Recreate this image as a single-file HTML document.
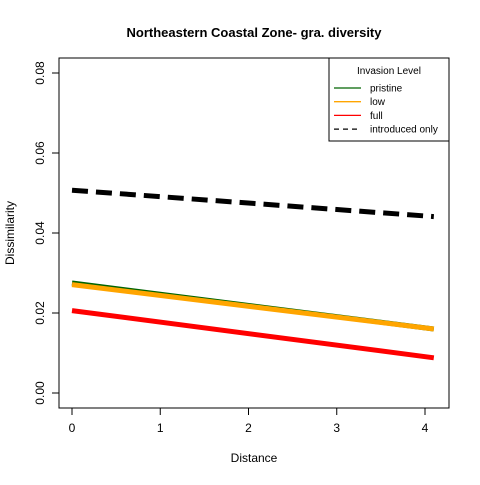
<!DOCTYPE html>
<html><head><style>body{margin:0;background:#fff}svg{font-family:"Liberation Sans",Arial,sans-serif}</style></head>
<body>
<svg id="c" width="480" height="480" xmlns="http://www.w3.org/2000/svg"></svg>
<script>
const seriesNames=["pristine","low","full","introduced only"];
const xStart=[0,0,0,0];
const xEnd=[4.1,4.1,4.1,4.1];
const yStart=[0.0275,0.0271,0.0206,0.0507];
const yEnd=[0.0160,0.0160,0.0088,0.0441];
const colors=["#006400","orange","red","black"];
const xTicks=[0,1,2,3,4];
const yTicks=[0,0.02,0.04,0.06,0.08];
const yTickLabels=["0.00","0.02","0.04","0.06","0.08"];
const X=v=>72+v*88.25, Y=v=>393-v*4000;
const svg=document.getElementById('c');
const NS="http://www.w3.org/2000/svg";
function mk(t,a,txt){const e=document.createElementNS(NS,t);for(const k in a)e.setAttribute(k,a[k]);if(txt!==undefined)e.textContent=txt;svg.appendChild(e);return e;}
let e;
e=mk('rect',{x:59,y:58,width:390,height:350,fill:'none',stroke:'#000'});


e=mk('text',{x:254,y:37,'text-anchor':'middle','font-size':13,'font-weight':'bold'},'Northeastern Coastal Zone- gra. diversity');


e=mk('text',{x:254,y:462,'text-anchor':'middle','font-size':12},'Distance');


e=mk('text',{x:14,y:233,'text-anchor':'middle','font-size':12,transform:'rotate(-90 14 233)'},'Dissimilarity');


mk('line',{x1:X(0),x2:X(4),y1:408,y2:408,stroke:'#000'});
xTicks.forEach(t=>{mk('line',{x1:X(t),x2:X(t),y1:408,y2:415,stroke:'#000'});
e=mk('text',{x:X(t),y:432,'text-anchor':'middle','font-size':12},String(t));

});
mk('line',{x1:59,x2:59,y1:Y(0),y2:Y(0.08),stroke:'#000'});
yTicks.forEach((t,i)=>{mk('line',{x1:52,x2:59,y1:Y(t),y2:Y(t),stroke:'#000'});
e=mk('text',{x:44,y:Y(t),'text-anchor':'middle','font-size':12,transform:`rotate(-90 44 ${Y(t)})`},yTickLabels[i]);

});
[0,1,2,3].forEach(i=>{
const a={x1:X(xStart[i]),x2:X(xEnd[i]),y1:Y(yStart[i]),y2:Y(yEnd[i]),stroke:colors[i],'stroke-width':5};
if(i===3)a['stroke-dasharray']='16 8';
e=mk('line',a);

});
e=mk('rect',{x:329,y:58,width:120,height:83,fill:'#fff',stroke:'#000'});


mk('text',{x:389,y:74,'text-anchor':'middle','font-size':10},'Invasion Level');
seriesNames.forEach((n,i)=>{const y=88+i*13.7;
const a={x1:334,x2:361,y1:y,y2:y,stroke:colors[i],'stroke-width':1.3};
if(i===3)a['stroke-dasharray']='5 4';
mk('line',a);
e=mk('text',{x:370,y:y+3.5,'font-size':10},n);

});
</script>
</body></html>
